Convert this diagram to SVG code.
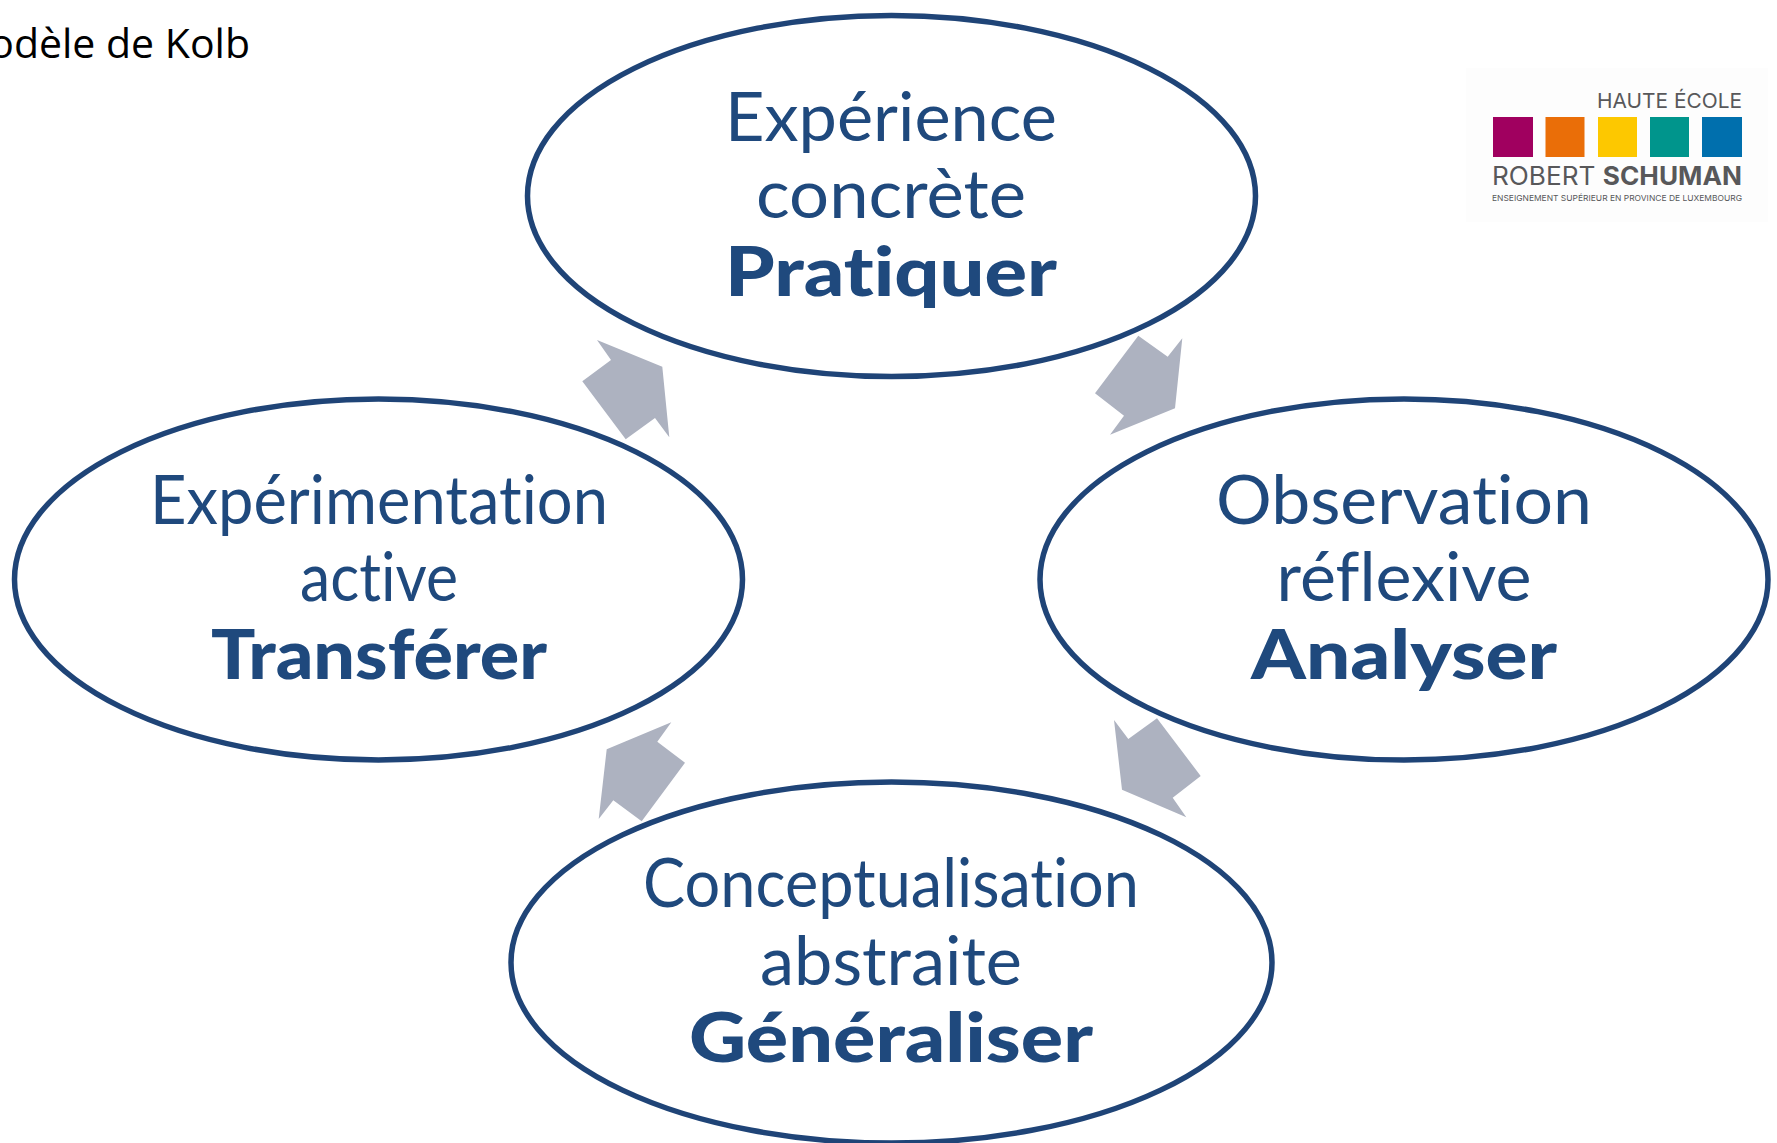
<svg xmlns="http://www.w3.org/2000/svg" width="1777" height="1143" viewBox="0 0 1777 1143">
<style>
.e{fill:#fff;stroke:#1f4477;stroke-width:5.500}
.a{fill:#adb2c0}
.t{font-family:"Lato","Open Sans",sans-serif;font-size:68px;fill:#1f497d;text-anchor:middle;font-variant-ligatures:none}
.b{font-weight:900;font-size:69px}
.h{font-family:"Inter","Liberation Sans",sans-serif;fill:#58585a}
</style>
<rect width="1777" height="1143" fill="#fff"/>
<text x="250" y="58" text-anchor="end" font-family="'Open Sans',sans-serif" font-size="41" fill="#000">Modèle de Kolb</text>
<g id="connectors">
<polygon class="a" points="1138.3,335.7 1167.7,356.7 1182.3,338.3 1175,408.3 1110,434.7 1124,415.7 1095,393.3"/>
<polygon class="a" points="597,340 662.3,366.7 669.3,437.3 655,418 625.7,439.3 582.3,381.3 611,360"/>
<polygon class="a" points="1114,720 1128.3,739 1157,718.3 1200.7,776 1172.7,797.7 1186.3,817.3 1122,789.7"/>
<polygon class="a" points="671.3,722.3 657.3,741.7 685,762.7 641.7,821.3 613.3,800.3 598.7,819 606.7,749.3"/>
</g>
<g id="node-pratiquer">
<ellipse class="e" cx="891.5" cy="196" rx="364" ry="180.500"/>
<text class="t" x="891" y="141" textLength="332" lengthAdjust="spacingAndGlyphs">Expérience</text>
<text class="t" x="891" y="218" textLength="270" lengthAdjust="spacingAndGlyphs">concrète</text>
<text class="t b" x="891" y="296" textLength="332" lengthAdjust="spacingAndGlyphs">Pratiquer</text>
</g>
<g id="node-transferer">
<ellipse class="e" cx="378.500" cy="579.500" rx="364" ry="180.500"/>
<text class="t" x="379" y="524" textLength="458" lengthAdjust="spacingAndGlyphs">Expérimentation</text>
<text class="t" x="379" y="601" textLength="158" lengthAdjust="spacingAndGlyphs">active</text>
<text class="t b" x="379" y="679" textLength="336" lengthAdjust="spacingAndGlyphs">Transférer</text>
</g>
<g id="node-analyser">
<ellipse class="e" cx="1404" cy="579.500" rx="364" ry="180.500"/>
<text class="t" x="1404" y="524" textLength="376" lengthAdjust="spacingAndGlyphs">Observation</text>
<text class="t" x="1404" y="601" textLength="255" lengthAdjust="spacingAndGlyphs">réflexive</text>
<text class="t b" x="1404" y="679" textLength="306" lengthAdjust="spacingAndGlyphs">Analyser</text>
</g>
<g id="node-generaliser">
<ellipse class="e" cx="891.5" cy="962.500" rx="380.500" ry="180.500"/>
<text class="t" x="891" y="907" textLength="496" lengthAdjust="spacingAndGlyphs">Conceptualisation</text>
<text class="t" x="891" y="985" textLength="262" lengthAdjust="spacingAndGlyphs">abstraite</text>
<text class="t b" x="891" y="1062" textLength="404" lengthAdjust="spacingAndGlyphs">Généraliser</text>
</g>
<g id="logo">
<rect x="1466" y="68" width="302" height="154" fill="#fdfdfd"/>
<text class="h" x="1742" y="108" font-size="20" text-anchor="end" textLength="145" lengthAdjust="spacingAndGlyphs">HAUTE ÉCOLE</text>
<rect x="1493" y="117" width="40" height="40" fill="#a0005f"/>
<rect x="1545.500" y="117" width="39" height="40" fill="#ea6e08"/>
<rect x="1598" y="117" width="39" height="40" fill="#fdc800"/>
<rect x="1650" y="117" width="39" height="40" fill="#00958c"/>
<rect x="1702" y="117" width="40" height="40" fill="#006fad"/>
<text class="h" x="1492" y="185" font-size="25" textLength="250" lengthAdjust="spacingAndGlyphs">ROBERT <tspan font-weight="700">SCHUMAN</tspan></text>
<text class="h" x="1492" y="201" font-size="8" textLength="250" lengthAdjust="spacingAndGlyphs">ENSEIGNEMENT SUPÉRIEUR EN PROVINCE DE LUXEMBOURG</text>
</g>
</svg>
